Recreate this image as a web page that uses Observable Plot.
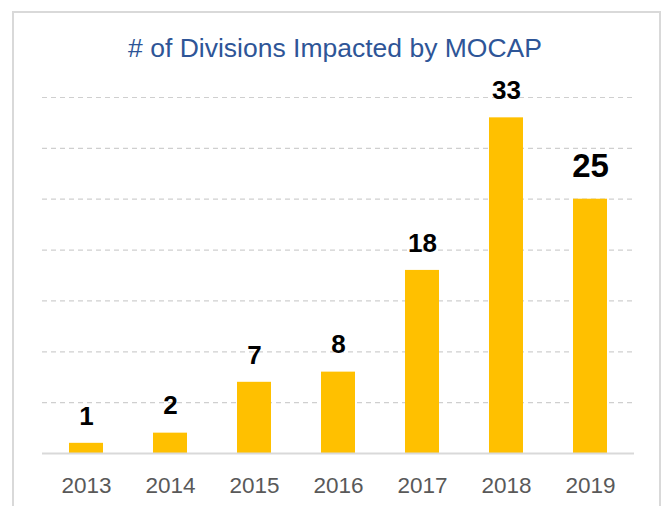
<!DOCTYPE html>
<html>
<head>
<meta charset="utf-8">
<script src="https://cdn.jsdelivr.net/npm/d3@7"></script>
<script src="https://cdn.jsdelivr.net/npm/@observablehq/plot@0.6"></script>
<style>
  body { margin: 0; background: #fff; width: 665px; height: 506px; overflow: hidden; position: relative; }
  #frame { position: absolute; left: 12px; top: 11px; width: 645px; height: 520px; border: 2px solid #d9d9d9; border-bottom: none; }
  #title { position: absolute; left: 0; width: 670px; top: 35px; text-align: center; font-family: "Liberation Sans", Arial, sans-serif; font-size: 26.5px; line-height: 26px; color: #2E5597; }
  #chart { position: absolute; left: 0; top: 0; }
</style>
</head>
<body>
<div id="frame"></div>
<div id="title"># of Divisions Impacted by MOCAP</div>
<div id="chart"></div>
<script>
const years = ["2013", "2014", "2015", "2016", "2017", "2018", "2019"];
const divisions = [1, 2, 7, 8, 18, 33, 25];
const gridValues = [5, 10, 15, 20, 25, 30, 35];

const data = years.map((year, i) => ({year, value: divisions[i]}));
const last = years[years.length - 1];

const chart = Plot.plot({
  width: 665,
  height: 506,
  marginLeft: 42,
  marginRight: 31,
  marginTop: 97,
  marginBottom: 53,
  style: { fontFamily: "Liberation Sans, Arial, sans-serif", background: "transparent" },
  x: { domain: years, paddingInner: 0.6, paddingOuter: 0.3, axis: null },
  y: { domain: [0, 35], axis: null },
  marks: [
    Plot.ruleY(gridValues, { stroke: "#cfcfcf", strokeWidth: 1.2, strokeDasharray: "5,4" }),
    Plot.barY(data, { x: "year", y: "value", fill: "#FFC000" }),
    Plot.ruleY([0], { stroke: "#d9d9d9", strokeWidth: 2 }),
    Plot.axisX({ tickSize: 0, tickPadding: 24, fontSize: 22.5, fill: "#595959", label: null }),
    Plot.text(data.filter(d => d.year !== last), { x: "year", y: "value", text: d => String(d.value), fontSize: 26, fontWeight: "bold", fill: "#000", dy: -27 }),
    Plot.text(data.filter(d => d.year === last), { x: "year", y: "value", text: d => String(d.value), fontSize: 33, fontWeight: "bold", fill: "#000", dy: -33 })
  ]
});
document.getElementById("chart").appendChild(chart);
</script>
</body>
</html>
